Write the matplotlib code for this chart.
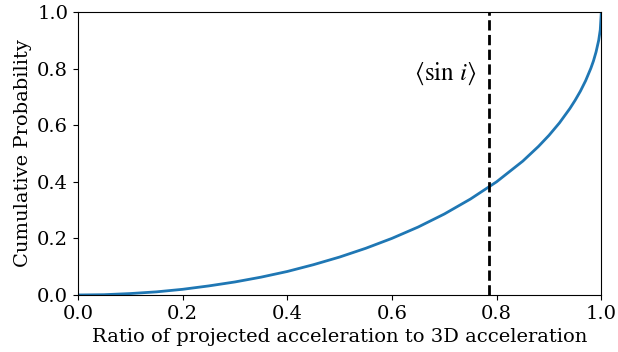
import matplotlib
matplotlib.use("Agg")
import matplotlib.pyplot as plt

plt.rcParams["font.family"] = "DejaVu Serif"
plt.rcParams["mathtext.fontset"] = "stix"

# cumulative probability
ratio = [0.0, 0.05, 0.1, 0.15, 0.2, 0.25, 0.3, 0.35, 0.4, 0.45, 0.5, 0.55,
         0.6, 0.65, 0.7, 0.75, 0.8, 0.85, 0.88, 0.9, 0.92, 0.94, 0.95, 0.96,
         0.97, 0.98, 0.985, 0.99, 0.995, 0.998, 1.0]
cum_prob = [0.0, 0.001, 0.005, 0.011, 0.020, 0.032, 0.046, 0.063, 0.083,
            0.107, 0.134, 0.165, 0.200, 0.240, 0.286, 0.339, 0.400, 0.473,
            0.525, 0.564, 0.608, 0.659, 0.688, 0.720, 0.757, 0.801, 0.827,
            0.859, 0.900, 0.937, 1.0]
mean_sin_i = 0.785

fig, ax = plt.subplots(figsize=(6.18, 3.52), dpi=100)

ax.plot(ratio, cum_prob, color="#1f77b4", lw=2)
ax.axvline(mean_sin_i, color="black", ls="--", lw=2)
ax.text(0.643, 0.78, r"$\langle \sin\, i \rangle$", fontsize=18, va="center")

ax.set_xlim(0, 1)
ax.set_ylim(0, 1)
ax.set_xlabel("Ratio of projected acceleration to 3D acceleration", fontsize=14)
ax.set_ylabel("Cumulative Probability", fontsize=14)
ax.tick_params(labelsize=14)

fig.subplots_adjust(left=0.126, right=0.973, top=0.966, bottom=0.162)
fig.savefig("out.png")
